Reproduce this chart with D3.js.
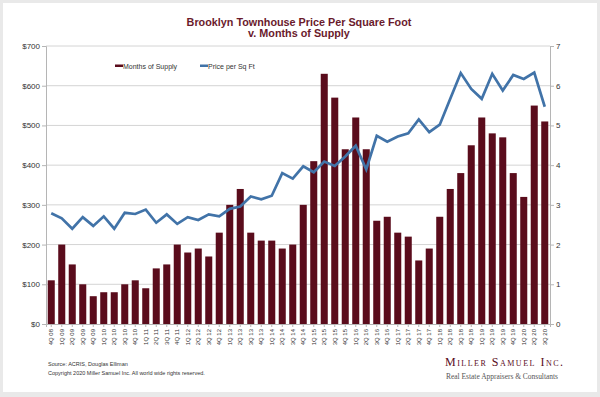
<!DOCTYPE html>
<html>
<head>
<meta charset="utf-8">
<script src="https://cdn.jsdelivr.net/npm/d3@7"></script>
<style>
  body { margin: 0; background: #e9e9e9; }
  svg { display: block; }
</style>
</head>
<body>
<svg id="chart" width="600" height="397"></svg>
<script>
let quarters = ["4Q 08",
  "1Q 09", "2Q 09", "3Q 09", "4Q 09",
  "1Q 10", "2Q 10", "3Q 10", "4Q 10",
  "1Q 11", "2Q 11", "3Q 11", "4Q 11",
  "1Q 12", "2Q 12", "3Q 12", "4Q 12",
  "1Q 13", "2Q 13", "3Q 13", "4Q 13",
  "1Q 14", "2Q 14", "3Q 14", "4Q 14",
  "1Q 15", "2Q 15", "3Q 15", "4Q 15",
  "1Q 16", "2Q 16", "3Q 16", "4Q 16",
  "1Q 17", "2Q 17", "3Q 17", "4Q 17",
  "1Q 18", "2Q 18", "3Q 18", "4Q 18",
  "1Q 19", "2Q 19", "3Q 19", "4Q 19",
  "1Q 20", "2Q 20", "3Q 20"]

// months of supply (right axis)
let monthsSupply = [1.1,
  2.0, 1.5, 1.0, 0.7,
  0.8, 0.8, 1.0, 1.1,
  0.9, 1.4, 1.5, 2.0,
  1.8, 1.9, 1.7, 2.3,
  3.0, 3.4, 2.3, 2.1,
  2.1, 1.9, 2.0, 3.0,
  4.1, 6.3, 5.7, 4.4,
  5.2, 4.4, 2.6, 2.7,
  2.3, 2.2, 1.6, 1.9,
  2.7, 3.4, 3.8, 4.5,
  5.2, 4.8, 4.7, 3.8,
  3.2, 5.5, 5.1]

// price per sq ft (left axis)
let pricePsf = [279,
  266, 240, 269, 247,
  271, 240, 280, 277,
  288, 255, 276, 252,
  269, 262, 276, 271,
  290, 296, 321, 314,
  323, 380, 366, 397,
  382, 409, 398, 422,
  449, 389, 474, 459,
  472, 480, 515, 483,
  502, 567, 632, 592,
  567, 630, 588, 627,
  617, 633, 547]

let leftTicks = [0, 100, 200, 300, 400, 500, 600, 700]
let rightTicks = [0, 1, 2, 3, 4, 5, 6, 7]

let svg = d3.select("#chart")

// card
svg.append("rect")
    .attr("x", 3).attr("y", 3)
    .attr("width", 594).attr("height", 389)
    .attr("fill", "#fff")

let plotLeft = 46, plotRight = 550, plotTop = 46, plotBottom = 324

let x = d3.scaleBand()
    .domain(quarters)
    .range([plotLeft, plotRight])
    .paddingInner(0.33)
    .paddingOuter(0.165)

let yLeft = d3.scaleLinear()
    .domain([0, 700])
    .range([plotBottom, plotTop])

let yRight = d3.scaleLinear()
    .domain([0, 7])
    .range([plotBottom, plotTop])

// gridlines
svg.append("g")
    .selectAll("line")
    .data(leftTicks.slice(1))
    .join("line")
    .attr("x1", plotLeft).attr("x2", plotRight)
    .attr("y1", d => yLeft(d)).attr("y2", d => yLeft(d))
    .attr("stroke", "#d4d4d4")
    .attr("stroke-width", 1)

// axes
let axisLeft = d3.axisLeft(yLeft)
    .tickValues(leftTicks)
    .tickSize(4)
    .tickFormat(d => "$" + d)
let gl = svg.append("g")
    .attr("transform", `translate(${plotLeft},0)`)
    .call(axisLeft)

let axisRight = d3.axisRight(yRight)
    .tickValues(rightTicks)
    .tickSize(4)
    .tickFormat(d3.format("d"))
let gr = svg.append("g")
    .attr("transform", `translate(${plotRight},0)`)
    .call(axisRight)

let axisBottom = d3.axisBottom(x).tickSize(3)
let gb = svg.append("g")
    .attr("transform", `translate(0,${plotBottom})`)
    .call(axisBottom)

gb.selectAll("text")
    .attr("transform", "rotate(-90)")
    .attr("text-anchor", "end")
    .attr("x", -5)
    .attr("y", 0)
    .attr("dy", "0.35em")
    .style("font-size", "6px")

for (let g of [gl, gr, gb]) {
    g.select(".domain").attr("stroke", "#b5b5b5")
    g.selectAll(".tick line").attr("stroke", "#b5b5b5")
    g.selectAll("text")
        .attr("fill", "#333")
        .style("font-family", "Liberation Sans, Arial, sans-serif")
}
gl.selectAll("text").style("font-size", "8px").attr("x", -6)
gr.selectAll("text").style("font-size", "8px").attr("x", 6)

// bars
svg.append("g")
    .selectAll("rect")
    .data(monthsSupply)
    .join("rect")
    .attr("x", (d, i) => x(quarters[i]))
    .attr("y", d => yRight(d))
    .attr("width", x.bandwidth())
    .attr("height", d => plotBottom - yRight(d))
    .attr("fill", "#5a0c1c")

// line
let line = d3.line()
    .x((d, i) => x(quarters[i]) + x.bandwidth() / 2)
    .y(d => yLeft(d))

svg.append("path")
    .datum(pricePsf)
    .attr("d", line)
    .attr("fill", "none")
    .attr("stroke", "#4173a8")
    .attr("stroke-width", 2.7)
    .attr("stroke-linejoin", "miter")

// title
let title = svg.append("text")
    .attr("text-anchor", "middle")
    .attr("fill", "#6a1a2c")
    .style("font-family", "Liberation Sans, Arial, sans-serif")
    .style("font-weight", "bold")
    .style("font-size", "10.8px")
title.append("tspan").attr("x", 299).attr("y", 25.5).text("Brooklyn Townhouse Price Per Square Foot")
title.append("tspan").attr("x", 299).attr("y", 37).text("v. Months of Supply")

// legend
let legend = svg.append("g")
    .style("font-family", "Liberation Sans, Arial, sans-serif")
    .style("font-size", "7px")
    .attr("fill", "#333")
legend.append("rect").attr("x", 115).attr("y", 64.5).attr("width", 8).attr("height", 2.5).attr("fill", "#5a0c1c")
legend.append("text").attr("x", 123).attr("y", 68.5).text("Months of Supply")
legend.append("rect").attr("x", 200).attr("y", 64.5).attr("width", 8).attr("height", 2.5).attr("fill", "#4173a8")
legend.append("text").attr("x", 208).attr("y", 68.5).text("Price per Sq Ft")

// footer
let foot = svg.append("g")
    .style("font-family", "Liberation Sans, Arial, sans-serif")
    .style("font-size", "5.5px")
    .attr("fill", "#333")
foot.append("text").attr("x", 48).attr("y", 366).text("Source: ACRIS, Douglas Elliman")
foot.append("text").attr("x", 48).attr("y", 375).text("Copyright 2020 Miller Samuel Inc.  All world wide rights reserved.")

// logo
svg.append("text")
    .attr("x", 445).attr("y", 366)
    .attr("fill", "#5a0c1c")
    .style("font-family", "Liberation Serif, Times New Roman, serif")
    .style("font-size", "12px")
    .style("font-variant", "small-caps")
    .attr("textLength", 118)
    .text("Miller Samuel Inc.")
svg.append("text")
    .attr("x", 446).attr("y", 379)
    .attr("fill", "#555")
    .style("font-family", "Liberation Serif, Times New Roman, serif")
    .style("font-size", "7.5px")
    .attr("textLength", 112)
    .text("Real Estate Appraisers & Consultants")
</script>
</body>
</html>
